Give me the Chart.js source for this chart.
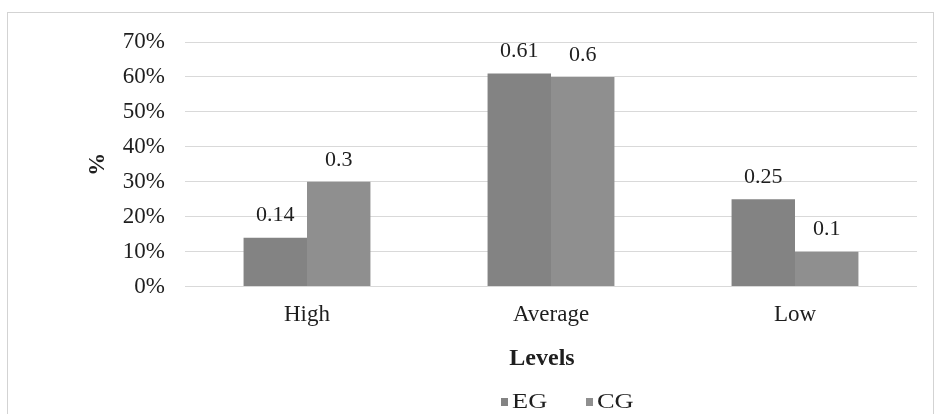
<!DOCTYPE html>
<html lang="en">
<head>
  <meta charset="UTF-8">
  <title>Levels EG vs CG</title>
  <script src="https://cdn.jsdelivr.net/npm/chart.js"></script>
  <style>
    html, body {
      margin: 0;
      padding: 0;
      background: #fff;
      overflow: hidden;
    }
    .frame {
      position: absolute;
      left: 7px;
      top: 12px;
      width: 925px;
      height: 420px;
      border: 1px solid #d3d3d3;
    }
  </style>
</head>
<body>
  <div class="frame">
    <canvas id="levelsChart" width="925" height="410"></canvas>
  </div>

  <script>
    const levels = ["High", "Average", "Low"];
    const egValues = [0.14, 0.61, 0.25];
    const cgValues = [0.3, 0.6, 0.1];
    const seriesNames = ["EG", "CG"];
    const yTicks = [0, 0.1, 0.2, 0.3, 0.4, 0.5, 0.6, 0.7];

    const serif = "'Liberation Serif', 'Times New Roman', serif";
    const textColor = "#1e1e1e";
    const stretch = 1.2; // the source text is a little wide

    // draws the small value labels above each bar
    const valueLabels = {
      id: "valueLabels",
      afterDatasetsDraw(chart) {
        const ctx = chart.ctx;
        ctx.save();
        ctx.font = "22px " + serif;
        ctx.fillStyle = textColor;
        ctx.textAlign = "center";
        ctx.textBaseline = "middle";
        chart.data.datasets.forEach((ds, i) => {
          chart.getDatasetMeta(i).data.forEach((bar, j) => {
            ctx.fillText(String(ds.data[j]), bar.x, bar.y - 22);
          });
        });
        ctx.restore();
      }
    };

    // legend in the bottom strip, small square then the name
    const bottomLegend = {
      id: "bottomLegend",
      afterDraw(chart) {
        const ctx = chart.ctx;
        const area = chart.chartArea;
        let x = (area.left + area.right) / 2 - 50;
        const y = chart.height - 21;
        ctx.save();
        ctx.font = "22px " + serif;
        ctx.textBaseline = "middle";
        chart.data.datasets.forEach(ds => {
          ctx.fillStyle = ds.backgroundColor;
          ctx.fillRect(x, y - 4, 7, 8);
          ctx.fillStyle = textColor;
          ctx.save();
          ctx.translate(x + 11, y);
          ctx.scale(stretch, 1);
          ctx.fillText(ds.label, 0, 0);
          ctx.restore();
          x += 85;
        });
        ctx.restore();
      }
    };

    const ctx = document.getElementById("levelsChart").getContext("2d");
    new Chart(ctx, {
      type: "bar",
      data: {
        labels: levels,
        datasets: [
          {
            label: seriesNames[0],
            data: egValues,
            backgroundColor: "#838383",
            categoryPercentage: 0.52,
            barPercentage: 1.0
          },
          {
            label: seriesNames[1],
            data: cgValues,
            backgroundColor: "#8f8f8f",
            categoryPercentage: 0.52,
            barPercentage: 1.0
          }
        ]
      },
      plugins: [valueLabels, bottomLegend],
      options: {
        responsive: false,
        animation: false,
        layout: {
          padding: { left: 76, right: 16, top: 29, bottom: 45 }
        },
        plugins: {
          tooltip: { enabled: false },
          legend: { display: false }
        },
        scales: {
          x: {
            grid: { display: false, drawTicks: false },
            border: { display: false },
            ticks: {
              padding: 15,
              color: textColor,
              font: { family: serif, size: 23 }
            },
            title: {
              display: true,
              // trailing spaces nudge the title left like the source
              text: "Levels   ",
              color: textColor,
              font: { family: serif, size: 24, weight: "bold" },
              padding: { top: 0, bottom: 5 }
            }
          },
          y: {
            min: 0,
            max: 0.7,
            afterFit(scale) {
              scale.width = 101;
              scale.paddingTop = 0;
              scale.paddingBottom = 0;
            },
            afterBuildTicks(scale) {
              scale.ticks = yTicks.map(v => ({ value: v }));
            },
            grid: {
              color: "#d9d9d9",
              lineWidth: 1,
              drawTicks: false
            },
            border: { display: false },
            ticks: {
              padding: 20,
              color: textColor,
              font: { family: serif, size: 23 },
              callback: v => Math.round(v * 100) + "%"
            },
            title: {
              display: true,
              text: "%",
              color: textColor,
              font: { family: serif, size: 23, weight: "bold" },
              padding: 0
            }
          }
        }
      }
    });
  </script>
</body>
</html>
